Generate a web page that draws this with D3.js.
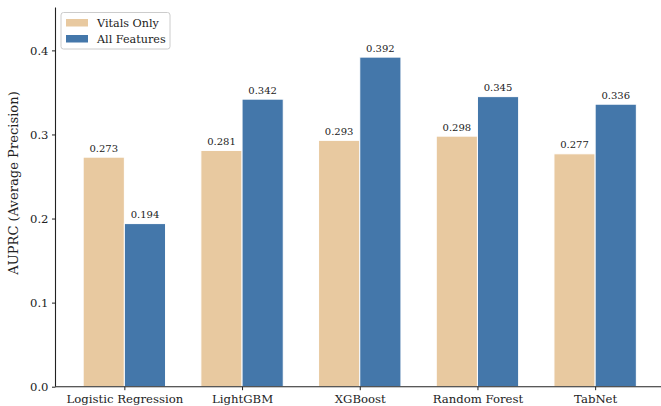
<!DOCTYPE html>
<html><head><meta charset="utf-8">
<script src="https://cdn.jsdelivr.net/npm/d3@7"></script>
<style>body{margin:0;background:#fff}svg{display:block}text{font-family:"DejaVu Serif",serif;fill:#222}</style>
</head><body>
<svg id="c" width="661" height="406"></svg>
<script>
const categories = ["Logistic Regression","LightGBM","XGBoost","Random Forest","TabNet"];
const seriesNames = ["Vitals Only","All Features"];
const vitalsOnly = [0.273,0.281,0.293,0.298,0.277];
const allFeatures = [0.194,0.342,0.392,0.345,0.336];
const yTicks = [0.0,0.1,0.2,0.3,0.4];
const colors = ["#e8c9a0","#4477aa"];

const svg = d3.select("#c");
const padL = 55.5, padB = 386.7, padT = 7.5;
const barW = 0.35;
const x = d3.scaleLinear().domain([-0.585, 4.585]).range([padL, 664]);
const y = d3.scaleLinear().domain([0, 0.451]).range([padB, padT]);

const series = [vitalsOnly, allFeatures];
series.forEach((vals, s) => {
  svg.append("g").selectAll("rect").data(vals).join("rect")
    .attr("x", (d,i) => x(i + (s===0 ? -barW : 0)))
    .attr("width", x(barW) - x(0))
    .attr("y", d => y(d))
    .attr("height", d => y(0) - y(d))
    .attr("fill", colors[s])
    .attr("stroke", "#fff").attr("stroke-width", 1);
  svg.append("g").selectAll("text").data(vals).join("text")
    .attr("x", (d,i) => x(i + (s===0 ? -barW/2 : barW/2)))
    .attr("y", d => y(d) - 5.5)
    .attr("text-anchor", "middle")
    .attr("font-size", 10)
    .text(d => d.toFixed(3));
});

// y axis
const ya = svg.append("g").attr("transform", `translate(${padL},0)`)
  .call(d3.axisLeft(y).tickValues(yTicks).tickFormat(d3.format(".1f")).tickSize(3.5).tickPadding(3.5));
ya.select(".domain").attr("d", `M0,${padT}V${padB}`).attr("stroke","#222").attr("stroke-width",1.1);
ya.selectAll(".tick line").attr("stroke","#222");
ya.selectAll(".tick text").attr("font-size", 11.6).attr("fill","#222");

// x axis
const xa = svg.append("g").attr("transform", `translate(0,${padB})`)
  .call(d3.axisBottom(x).tickValues(d3.range(categories.length)).tickFormat(i => categories[i]).tickSize(3.5));
xa.select(".domain").attr("d", `M${padL},0H661`).attr("stroke","#222").attr("stroke-width",1.1);
xa.selectAll(".tick line").attr("stroke","#222");
xa.selectAll(".tick text").attr("font-size", 11.7).attr("fill","#222").attr("dy", null).attr("y", 16.8);

// y label
svg.append("text")
  .attr("transform", "translate(13.5,183) rotate(-90)")
  .attr("text-anchor","middle").attr("dominant-baseline","central")
  .attr("font-size", 13.1)
  .text("AUPRC (Average Precision)");

// legend
const lg = svg.append("g");
lg.append("rect").attr("x",61).attr("y",12.5).attr("width",109).attr("height",36.5)
  .attr("rx",2.5).attr("fill","#fff").attr("fill-opacity",0.8).attr("stroke","#ccc").attr("stroke-width",1);
seriesNames.forEach((n,i) => {
  lg.append("rect").attr("x",66).attr("y",19 + i*16).attr("width",22).attr("height",7.5).attr("fill",colors[i]);
  lg.append("text").attr("x",97).attr("y",26.5 + i*16).attr("font-size",11.2).text(n);
});
</script>
</body></html>
